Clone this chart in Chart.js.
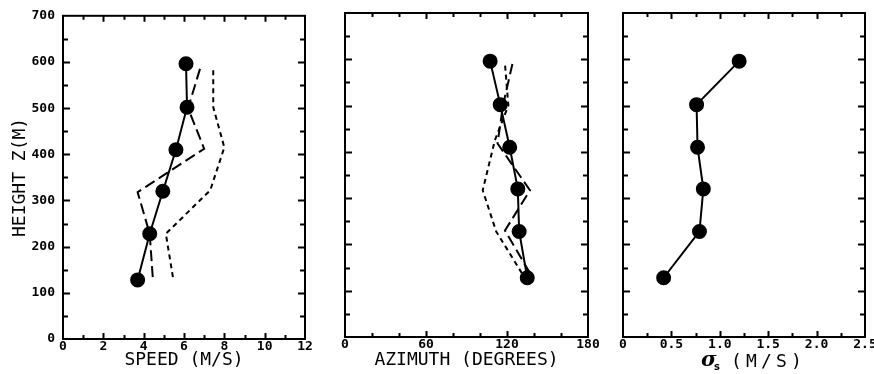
<!DOCTYPE html>
<html>
<head>
<meta charset="utf-8">
<script src="https://cdn.jsdelivr.net/npm/chart.js@4.4.0/dist/chart.umd.min.js"></script>
<style>
  html, body { margin: 0; padding: 0; background: #fff; overflow: hidden; }
  body { width: 874px; height: 374px; position: relative; }
  canvas { position: absolute; top: 0; }
</style>
</head>
<body>
<canvas id="speedChart" width="320" height="374" style="left:0"></canvas>
<canvas id="azimuthChart" width="290" height="374" style="left:320px"></canvas>
<canvas id="sigmaChart" width="280" height="374" style="left:600px"></canvas>
<script>
// heights of the mean profile (dots), metres
const heights = [128, 228, 320, 410, 502, 596];

// speed panel (m/s)
const speedMean = [3.7, 4.3, 4.95, 5.6, 6.15, 6.1];
const speedLongHeights = [134, 228, 318, 412, 500, 586];
const speedLong = [4.45, 4.3, 3.7, 7.0, 6.2, 6.8];
const speedShortHeights = [134, 228, 322, 415, 502, 588];
const speedShort = [5.45, 5.1, 7.3, 8.0, 7.45, 7.45];

// azimuth panel (degrees)
const azMean = [135, 129, 128, 122, 115, 107.5];
const azLongHeights = [138, 230, 317, 418, 500, 590];
const azLong = [137, 118.5, 137, 113, 117, 124];
const azShortHeights = [138, 228, 317, 425, 500, 590];
const azShort = [131, 112, 102, 111, 121, 118.5];

// sigma panel (m/s)
const sigmaMean = [0.42, 0.79, 0.83, 0.77, 0.76, 1.20];

// tick labels
const heightTicks = [0, 100, 200, 300, 400, 500, 600, 700];

const tickFont = { family: "'DejaVu Sans Mono'", size: 13, weight: 'bold' };
const titleFont = { family: "'DejaVu Sans Mono'", size: 18 };

function pairs(xs, ys) {
  return xs.map((v, i) => ({ x: v, y: ys[i] }));
}

function meanSet(xs) {
  return {
    data: pairs(xs, heights),
    showLine: true,
    borderColor: '#000',
    backgroundColor: '#000',
    borderWidth: 2,
    pointRadius: 6.5,
    pointHoverRadius: 6.5,
  };
}

function dashSet(xs, ys, dash) {
  return {
    data: pairs(xs, ys),
    showLine: true,
    borderColor: '#000',
    borderWidth: 2,
    borderDash: dash,
    pointRadius: 0,
  };
}

// box round the plot with inward ticks on all four sides
const frameTicks = {
  id: 'frameTicks',
  afterDatasetsDraw(chart, args, opts) {
    const { ctx, chartArea: a, scales: { x, y } } = chart;
    const isMajor = (v, m) => Math.abs(v / m - Math.round(v / m)) < 1e-6;
    ctx.save();
    ctx.strokeStyle = '#000';
    ctx.lineWidth = 2;
    ctx.strokeRect(a.left, a.top, a.right - a.left, a.bottom - a.top);
    ctx.beginPath();
    for (let v = x.min + opts.xStep; v < x.max - 1e-9; v += opts.xStep) {
      const px = Math.round(x.getPixelForValue(v)) + 0.5;
      const len = isMajor(v, opts.xMajor) ? 6 : 4;
      ctx.moveTo(px, a.bottom); ctx.lineTo(px, a.bottom - len);
      ctx.moveTo(px, a.top); ctx.lineTo(px, a.top + len);
    }
    for (let v = y.min + 50; v < y.max - 1e-9; v += 50) {
      const py = Math.round(y.getPixelForValue(v)) + 0.5;
      const len = isMajor(v, 100) ? 7 : 5;
      ctx.moveTo(a.left, py); ctx.lineTo(a.left + len, py);
      ctx.moveTo(a.right, py); ctx.lineTo(a.right - len, py);
    }
    ctx.stroke();
    ctx.restore();
  }
};

// sigma with subscript s, drawn by hand
const sigmaTitle = {
  id: 'sigmaTitle',
  afterDraw(chart) {
    const ctx = chart.ctx;
    ctx.save();
    ctx.fillStyle = '#000';
    ctx.textBaseline = 'alphabetic';
    ctx.font = "bold italic 21px 'DejaVu Serif'";
    ctx.fillText('σ', 101, 366);
    ctx.font = "bold 10px 'DejaVu Sans'";
    ctx.fillText('s', 114, 370);
    ctx.font = "18px 'DejaVu Sans Mono'";
    const chars = ['(', 'M', '/', 'S', ')'];
    chars.forEach((c, i) => ctx.fillText(c, 131 + i * 15, 367));
    ctx.restore();
  }
};

function createProfile(element, datasets, cfg) {
  const ctx = document.getElementById(element).getContext('2d');
  return new Chart(ctx, {
    type: 'scatter',
    data: { datasets: datasets },
    options: {
      responsive: false,
      animation: false,
      layout: { padding: { top: cfg.top, right: cfg.right, left: 0, bottom: 0 } },
      plugins: {
        legend: { display: false },
        tooltip: { enabled: false },
        frameTicks: { xStep: cfg.xStep, xMajor: cfg.xMajor },
      },
      scales: {
        x: {
          type: 'linear',
          min: cfg.xMin,
          max: cfg.xMax,
          grid: { display: false, drawTicks: false },
          border: { display: false },
          afterFit: s => { s.height = cfg.xHeight; },
          afterBuildTicks: s => { s.ticks = cfg.xTicks.map(v => ({ value: v })); },
          ticks: {
            color: '#000',
            font: tickFont,
            padding: 0,
            maxRotation: 0,
            autoSkip: false,
            callback: cfg.xFormat,
          },
          title: {
            display: !!cfg.xTitle,
            text: cfg.xTitle || '',
            color: '#000',
            font: titleFont,
            padding: { top: 0, bottom: 3 },
          },
        },
        y: {
          type: 'linear',
          min: 0,
          max: 700,
          grid: { display: false, drawTicks: false },
          border: { display: false },
          afterFit: s => { s.width = cfg.yWidth; },
          afterBuildTicks: s => { s.ticks = heightTicks.map(v => ({ value: v })); },
          ticks: {
            display: cfg.showY,
            color: '#000',
            font: tickFont,
            padding: 8,
          },
          title: {
            display: cfg.showY,
            text: 'HEIGHT Z(M)',
            color: '#000',
            font: titleFont,
            padding: { top: 10, bottom: 0 },
          },
        },
      },
    },
    plugins: cfg.extra ? [frameTicks, cfg.extra] : [frameTicks],
  });
}

createProfile('speedChart', [
  meanSet(speedMean),
  dashSet(speedLong, speedLongHeights, [11, 5]),
  dashSet(speedShort, speedShortHeights, [5, 4]),
], {
  top: 15, right: 15, xHeight: 35, yWidth: 63, showY: true,
  xMin: 0, xMax: 12, xStep: 1, xMajor: 2,
  xTicks: [0, 2, 4, 6, 8, 10, 12],
  xFormat: v => String(v),
  xTitle: 'SPEED (M/S)',
});

createProfile('azimuthChart', [
  meanSet(azMean),
  dashSet(azLong, azLongHeights, [11, 5]),
  dashSet(azShort, azShortHeights, [5, 4]),
], {
  top: 13, right: 22, xHeight: 37, yWidth: 25, showY: false,
  xMin: 0, xMax: 180, xStep: 20, xMajor: 60,
  xTicks: [0, 60, 120, 180],
  xFormat: v => String(v),
  xTitle: 'AZIMUTH (DEGREES)',
});

createProfile('sigmaChart', [
  meanSet(sigmaMean),
], {
  top: 13, right: 15, xHeight: 37, yWidth: 23, showY: false,
  xMin: 0, xMax: 2.5, xStep: 0.25, xMajor: 0.5,
  xTicks: [0, 0.5, 1, 1.5, 2, 2.5],
  xFormat: v => (v === 0 ? '0' : v.toFixed(1)),
  xTitle: '',
  extra: sigmaTitle,
});
</script>
</body>
</html>
